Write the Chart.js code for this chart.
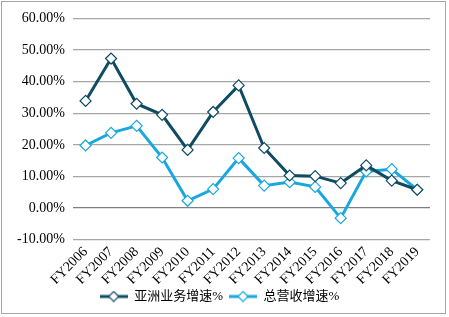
<!DOCTYPE html>
<html lang="zh">
<head>
<meta charset="UTF-8">
<title>亚洲业务增速 vs 总营收增速</title>
<script src="https://cdn.jsdelivr.net/npm/chart.js"></script>
<style>
    body { margin: 0; background: #fff; }
    .frame {
        position: absolute;
        left: 1px; top: 1px;
        width: 445px; height: 313px;
        border: 1px solid #a6a6a6;
        box-sizing: border-box;
    }
    .frame canvas { display: block; }
</style>
</head>
<body>
<div class="frame"><canvas id="c"></canvas></div>
<script>
// categories + series values (percent)
const years = ["FY2006","FY2007","FY2008","FY2009","FY2010","FY2011","FY2012",
               "FY2013","FY2014","FY2015","FY2016","FY2017","FY2018","FY2019"];
const asiaGrowth  = [33.9, 47.3, 33.0, 29.5, 18.4, 30.4, 38.8, 19.0, 10.3, 10.1, 7.9, 13.5, 8.7, 5.8];
const totalGrowth = [19.8, 23.8, 26.0, 16.0, 2.3, 6.0, 15.8, 7.1, 8.2, 6.7, -3.2, 11.6, 12.3, 5.8];
const yTicks = [-10, 0, 10, 20, 30, 40, 50, 60];

const DARK = '#0f4c62';
const LIGHT = '#19a7df';
const FONT = "'Liberation Serif', 'Times New Roman', 'Noto Sans CJK SC', serif";

Chart.defaults.font.family = FONT;
Chart.defaults.color = '#000';

// little line+diamond swatch for the legend
function swatch(color) {
    const cv = document.createElement('canvas');
    cv.width = 28; cv.height = 12;
    const g = cv.getContext('2d');
    g.strokeStyle = color; g.lineWidth = 3;
    g.beginPath(); g.moveTo(0, 6); g.lineTo(28, 6); g.stroke();
    g.fillStyle = '#fff'; g.lineWidth = 1.2;
    g.beginPath(); g.moveTo(14, 1); g.lineTo(19, 6); g.lineTo(14, 11); g.lineTo(9, 6); g.closePath();
    g.fill(); g.stroke();
    return cv;
}

const series = [
    { label: '亚洲业务增速%', data: asiaGrowth, color: DARK },
    { label: '总营收增速%', data: totalGrowth, color: LIGHT }
];

new Chart(document.getElementById('c'), {
    type: 'line',
    data: {
        labels: years,
        datasets: series.map(s => ({
            label: s.label,
            data: s.data,
            borderColor: s.color,
            backgroundColor: '#fff',
            borderWidth: 3,
            pointStyle: 'rectRot',
            pointRadius: 5.5,
            pointBorderWidth: 1.2,
            pointBackgroundColor: '#fff',
            pointBorderColor: s.color,
            tension: 0
        }))
    },
    options: {
        responsive: true,
        maintainAspectRatio: false,
        animation: false,
        layout: { padding: { top: 9, right: 15, left: 7, bottom: 0 } },
        scales: {
            x: {
                offset: true,
                grid: { display: false },
                border: { display: false },
                ticks: {
                    color: '#000',
                    font: { family: FONT, size: 14 },
                    autoSkip: false,
                    minRotation: 45, maxRotation: 45,
                    padding: -4
                }
            },
            y: {
                min: -10, max: 60,
                afterBuildTicks: ax => { ax.ticks = yTicks.map(v => ({ value: v })); },
                grid: {
                    color: ctx => ctx.tick && ctx.tick.value === 0 ? '#7f7f7f' : '#a6a6a6',
                    lineWidth: 1.2,
                    drawTicks: false
                },
                border: { display: false },
                ticks: {
                    color: '#000',
                    font: { family: FONT, size: 14 },
                    padding: 8,
                    callback: v => v.toFixed(2) + '%'
                }
            }
        },
        plugins: {
            legend: {
                position: 'bottom',
                labels: {
                    usePointStyle: true,
                    pointStyleWidth: 28,
                    color: '#000',
                    font: { family: FONT, size: 13 },
                    padding: 6,
                    generateLabels: chart => chart.data.datasets.map((d, i) => ({
                        text: d.label,
                        datasetIndex: i,
                        pointStyle: swatch(series[i].color),
                        fillStyle: '#fff',
                        strokeStyle: series[i].color,
                        lineWidth: 0,
                        fontColor: '#000'
                    }))
                }
            },
            tooltip: { enabled: false }
        }
    }
});
</script>
</body>
</html>
